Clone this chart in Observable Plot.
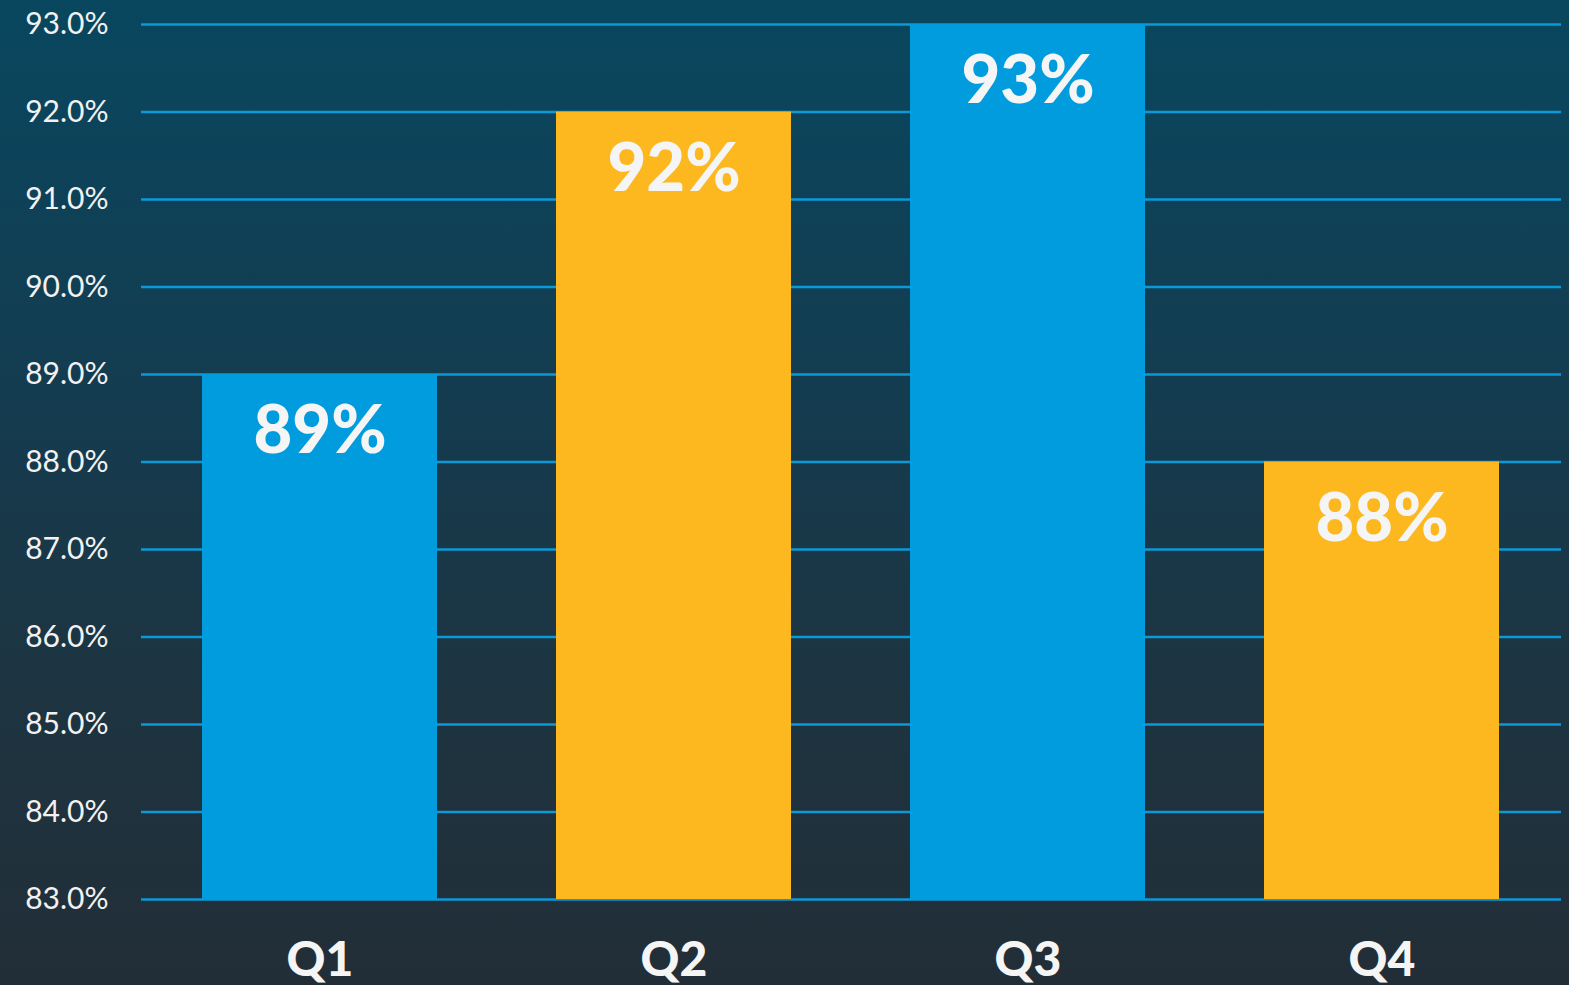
<!DOCTYPE html>
<html>
<head>
<meta charset="utf-8">
<script src="https://cdn.jsdelivr.net/npm/d3@7"></script>
<script src="https://cdn.jsdelivr.net/npm/@observablehq/plot@0.6"></script>
<style>
  html, body { margin: 0; padding: 0; background: #222f37; overflow: hidden; }
  #chart svg { display: block; }
</style>
</head>
<body>
<div id="chart"></div>
<script>
const quarters = ["Q1", "Q2", "Q3", "Q4"];
const values = [89, 92, 93, 88];
const labels = ["89%", "92%", "93%", "88%"];
const barColors = ["#009cdd", "#fdb71f", "#009cdd", "#fdb71f"];
const yTicks = [83, 84, 85, 86, 87, 88, 89, 90, 91, 92, 93];

const data = quarters.map((q, i) => ({q, v: values[i], label: labels[i], color: barColors[i]}));

const chart = Plot.plot({
  width: 1569,
  height: 985,
  marginTop: 24,
  marginBottom: 86,
  marginLeft: 141,
  marginRight: 8,
  style: {
    background: "linear-gradient(to bottom, #08475f 0%, #143c50 40%, #1d3441 70%, #222e37 100%)",
    fontFamily: "Lato, sans-serif",
    color: "#f2f2f2"
  },
  x: {domain: quarters, paddingInner: 0.335, paddingOuter: 0.17, label: null},
  y: {domain: [83, 93], label: null},
  marks: [
    Plot.ruleY(yTicks, {stroke: "#0a9ad9", strokeWidth: 2.5}),
    Plot.barY(data, {x: "q", y1: 83, y2: "v", fill: "color"}),
    Plot.text(data, {x: "q", y: "v", text: "label", fill: "#f5f5f5", fontSize: 67, fontWeight: 900, lineAnchor: "top", dy: 31}),
    Plot.axisY(yTicks, {tickSize: 0, tickPadding: 33, fontSize: 30, fontWeight: 400, tickFormat: d => d.toFixed(1) + "%", fill: "#f2f2f2", label: null}),
    Plot.axisX({tickSize: 0, tickPadding: 42, fontSize: 48, fontWeight: 900, fill: "#f5f5f5", label: null})
  ]
});
document.getElementById("chart").appendChild(chart);
</script>
</body>
</html>
